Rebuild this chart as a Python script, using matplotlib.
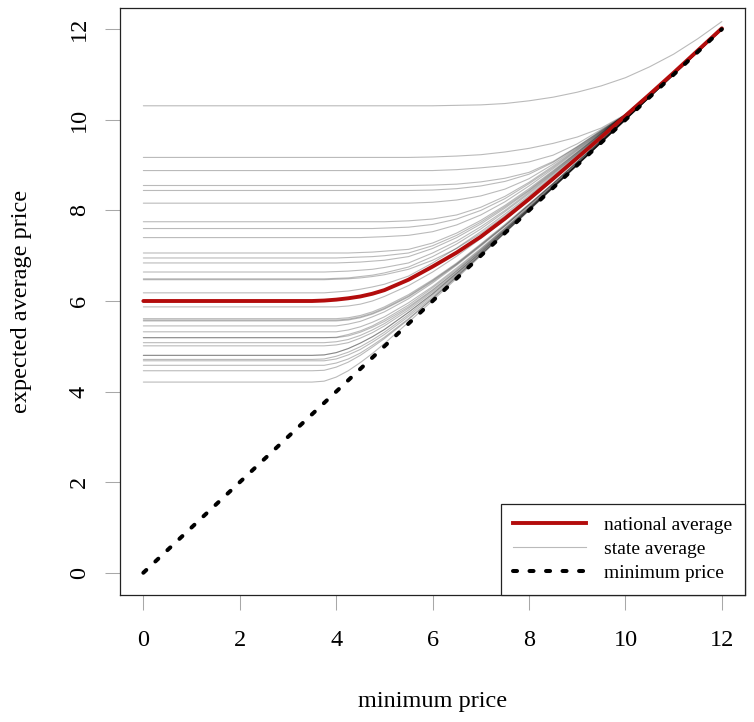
import matplotlib
matplotlib.use("Agg")
import matplotlib.pyplot as plt
from matplotlib.lines import Line2D

plt.rcParams['font.family'] = ['Liberation Serif', 'DejaVu Serif']

# minimum price grid (x values)
min_price = [0, 3, 3.5, 3.75, 4, 4.25, 4.5, 4.75, 5, 5.5, 6, 6.5, 7, 7.5, 8, 8.5,
             9, 9.5, 10, 10.5, 11, 11.5, 12]

# national average expected price
national_avg = [6.00, 6.00, 6.00, 6.01, 6.03, 6.06, 6.10, 6.16, 6.24, 6.47, 6.76, 7.07,
                7.42, 7.82, 8.25, 8.70, 9.16, 9.62, 10.09, 10.56, 11.04, 11.53, 12.02]

# state average expected prices (one list per state line)
st_01 = [10.31, 10.31, 10.31, 10.31, 10.31, 10.31, 10.31, 10.31, 10.31, 10.31, 10.31, 10.32, 10.33, 10.36, 10.42, 10.50, 10.61, 10.75, 10.93, 11.17, 11.45, 11.79, 12.17]
st_02 = [9.17, 9.17, 9.17, 9.17, 9.17, 9.17, 9.17, 9.17, 9.17, 9.17, 9.18, 9.20, 9.23, 9.29, 9.37, 9.48, 9.62, 9.82, 10.12, 10.58, 11.04, 11.52, 12.00]
st_03 = [8.88, 8.88, 8.88, 8.88, 8.88, 8.88, 8.88, 8.88, 8.88, 8.88, 8.88, 8.90, 8.94, 8.99, 9.07, 9.22, 9.47, 9.79, 10.11, 10.57, 11.04, 11.52, 12.00]
st_04 = [8.55, 8.55, 8.55, 8.55, 8.55, 8.55, 8.55, 8.55, 8.55, 8.55, 8.56, 8.58, 8.63, 8.71, 8.84, 9.08, 9.41, 9.77, 10.11, 10.57, 11.04, 11.52, 12.00]
st_05 = [8.44, 8.44, 8.44, 8.44, 8.44, 8.44, 8.44, 8.44, 8.44, 8.44, 8.45, 8.48, 8.54, 8.64, 8.80, 9.06, 9.40, 9.76, 10.11, 10.57, 11.04, 11.52, 12.00]
st_06 = [8.16, 8.16, 8.16, 8.16, 8.16, 8.16, 8.16, 8.16, 8.16, 8.16, 8.18, 8.23, 8.32, 8.47, 8.70, 9.02, 9.38, 9.75, 10.11, 10.57, 11.04, 11.52, 12.00]
st_07 = [7.75, 7.75, 7.75, 7.75, 7.75, 7.75, 7.75, 7.75, 7.75, 7.77, 7.81, 7.90, 8.07, 8.31, 8.62, 8.98, 9.36, 9.74, 10.11, 10.57, 11.04, 11.52, 12.00]
st_08 = [7.60, 7.60, 7.60, 7.60, 7.60, 7.60, 7.60, 7.60, 7.61, 7.63, 7.69, 7.81, 8.00, 8.26, 8.59, 8.95, 9.34, 9.73, 10.11, 10.57, 11.04, 11.52, 12.00]
st_09 = [7.40, 7.40, 7.40, 7.40, 7.40, 7.40, 7.40, 7.41, 7.42, 7.45, 7.53, 7.68, 7.90, 8.19, 8.54, 8.92, 9.32, 9.72, 10.11, 10.57, 11.04, 11.52, 12.00]
st_10 = [7.06, 7.06, 7.06, 7.06, 7.06, 7.06, 7.07, 7.08, 7.10, 7.14, 7.28, 7.50, 7.78, 8.11, 8.48, 8.88, 9.29, 9.71, 10.11, 10.57, 11.04, 11.52, 12.00]
st_11 = [6.95, 6.95, 6.95, 6.95, 6.95, 6.96, 6.97, 6.98, 7.00, 7.06, 7.22, 7.45, 7.74, 8.08, 8.45, 8.86, 9.28, 9.70, 10.11, 10.57, 11.04, 11.52, 12.00]
st_12 = [6.84, 6.84, 6.84, 6.84, 6.84, 6.85, 6.86, 6.88, 6.90, 6.98, 7.16, 7.40, 7.70, 8.05, 8.43, 8.84, 9.27, 9.70, 10.11, 10.57, 11.04, 11.52, 12.00]
st_13 = [6.64, 6.64, 6.64, 6.64, 6.65, 6.66, 6.68, 6.70, 6.74, 6.84, 7.06, 7.32, 7.64, 8.00, 8.40, 8.82, 9.25, 9.69, 10.11, 10.57, 11.04, 11.52, 12.00]
st_14 = [6.49, 6.49, 6.49, 6.49, 6.50, 6.51, 6.54, 6.57, 6.62, 6.75, 6.98, 7.26, 7.59, 7.97, 8.37, 8.80, 9.24, 9.68, 10.11, 10.57, 11.04, 11.52, 12.00]
st_15 = [6.47, 6.47, 6.47, 6.47, 6.48, 6.49, 6.51, 6.54, 6.58, 6.70, 6.90, 7.16, 7.49, 7.88, 8.30, 8.74, 9.20, 9.66, 10.10, 10.57, 11.04, 11.52, 12.00]
st_16 = [6.18, 6.18, 6.18, 6.18, 6.20, 6.22, 6.26, 6.31, 6.37, 6.55, 6.84, 7.17, 7.53, 7.92, 8.33, 8.77, 9.22, 9.67, 10.11, 10.57, 11.04, 11.52, 12.01]
st_17 = [5.87, 5.87, 5.87, 5.87, 5.87, 5.89, 5.93, 6.00, 6.10, 6.34, 6.64, 6.99, 7.38, 7.79, 8.22, 8.67, 9.13, 9.60, 10.08, 10.56, 11.04, 11.53, 12.02]
st_18 = [5.61, 5.61, 5.61, 5.61, 5.61, 5.63, 5.68, 5.76, 5.87, 6.14, 6.47, 6.84, 7.26, 7.69, 8.14, 8.60, 9.08, 9.56, 10.04, 10.53, 11.02, 11.51, 12.01]
st_19 = [5.58, 5.58, 5.58, 5.58, 5.58, 5.60, 5.65, 5.73, 5.84, 6.11, 6.45, 6.82, 7.24, 7.67, 8.13, 8.59, 9.07, 9.55, 10.04, 10.53, 11.02, 11.51, 12.01]
st_20 = [5.56, 5.56, 5.56, 5.56, 5.56, 5.58, 5.63, 5.71, 5.82, 6.09, 6.43, 6.81, 7.23, 7.66, 8.12, 8.59, 9.07, 9.55, 10.04, 10.53, 11.02, 11.51, 12.01]
st_21 = [5.45, 5.45, 5.45, 5.45, 5.45, 5.49, 5.55, 5.65, 5.76, 6.05, 6.40, 6.79, 7.21, 7.65, 8.11, 8.58, 9.06, 9.54, 10.03, 10.53, 11.02, 11.51, 12.01]
st_22 = [5.32, 5.32, 5.32, 5.32, 5.32, 5.36, 5.43, 5.53, 5.65, 5.96, 6.32, 6.73, 7.16, 7.61, 8.08, 8.56, 9.04, 9.53, 10.02, 10.51, 11.01, 11.50, 12.00]
st_23 = [5.19, 5.19, 5.19, 5.19, 5.20, 5.26, 5.34, 5.45, 5.59, 5.91, 6.29, 6.70, 7.14, 7.60, 8.07, 8.55, 9.03, 9.52, 10.02, 10.51, 11.01, 11.50, 12.00]
st_24 = [5.19, 5.19, 5.19, 5.19, 5.19, 5.23, 5.31, 5.42, 5.55, 5.87, 6.25, 6.67, 7.12, 7.58, 8.05, 8.54, 9.02, 9.52, 10.01, 10.51, 11.00, 11.50, 12.00]
st_25 = [5.08, 5.08, 5.08, 5.08, 5.10, 5.15, 5.24, 5.36, 5.50, 5.84, 6.23, 6.66, 7.11, 7.57, 8.05, 8.53, 9.02, 9.51, 10.01, 10.51, 11.00, 11.50, 12.00]
st_26 = [5.01, 5.01, 5.01, 5.01, 5.03, 5.08, 5.18, 5.30, 5.45, 5.80, 6.20, 6.63, 7.09, 7.56, 8.04, 8.52, 9.02, 9.51, 10.01, 10.51, 11.00, 11.50, 12.00]
st_27 = [4.80, 4.80, 4.80, 4.81, 4.86, 4.95, 5.07, 5.21, 5.37, 5.75, 6.16, 6.61, 7.07, 7.55, 8.03, 8.52, 9.01, 9.51, 10.01, 10.50, 11.00, 11.50, 12.00]
st_28 = [4.80, 4.80, 4.80, 4.81, 4.86, 4.95, 5.07, 5.21, 5.37, 5.75, 6.16, 6.61, 7.07, 7.55, 8.03, 8.52, 9.01, 9.51, 10.01, 10.50, 11.00, 11.50, 12.00]
st_29 = [4.71, 4.71, 4.71, 4.72, 4.78, 4.87, 4.99, 5.14, 5.31, 5.70, 6.13, 6.58, 7.05, 7.53, 8.02, 8.51, 9.01, 9.50, 10.00, 10.50, 11.00, 11.50, 12.00]
st_30 = [4.68, 4.68, 4.68, 4.68, 4.72, 4.81, 4.93, 5.09, 5.26, 5.66, 6.09, 6.56, 7.03, 7.52, 8.01, 8.51, 9.00, 9.50, 10.00, 10.50, 11.00, 11.50, 12.00]
st_31 = [4.58, 4.58, 4.58, 4.58, 4.63, 4.72, 4.85, 5.02, 5.20, 5.61, 6.06, 6.54, 7.02, 7.51, 8.01, 8.50, 9.00, 9.50, 10.00, 10.50, 11.00, 11.50, 12.00]
st_32 = [4.46, 4.46, 4.46, 4.47, 4.54, 4.65, 4.80, 4.98, 5.17, 5.59, 6.05, 6.53, 7.02, 7.51, 8.00, 8.50, 9.00, 9.50, 10.00, 10.50, 11.00, 11.50, 12.00]
st_33 = [4.21, 4.21, 4.21, 4.23, 4.32, 4.46, 4.64, 4.84, 5.06, 5.53, 6.01, 6.50, 7.00, 7.50, 8.00, 8.50, 9.00, 9.50, 10.00, 10.50, 11.00, 11.50, 12.00]

state_lines = [st_01, st_02, st_03, st_04, st_05, st_06, st_07, st_08, st_09, st_10,
               st_11, st_12, st_13, st_14, st_15, st_16, st_17, st_18, st_19, st_20,
               st_21, st_22, st_23, st_24, st_25, st_26, st_27, st_28, st_29, st_30,
               st_31, st_32, st_33]

# reference line: expected price equals minimum price
ref_x = [0, 12]
ref_y = [0, 12]

ticks = [0, 2, 4, 6, 8, 10, 12]
legend_labels = ["national average", "state average", "minimum price"]

W, H = 754, 722
fig = plt.figure(figsize=(W / 100, H / 100), dpi=100)
ax = fig.add_axes([120.2 / W, 1 - 594.5 / H, (745 - 120.2) / W, (594.5 - 7.5) / H])

red = '#b30c0c'
gray_kw = dict(color='black', alpha=0.27, lw=0.8)

for s in state_lines:
    ax.plot(min_price, s, solid_joinstyle='round', solid_capstyle='round', zorder=2, **gray_kw)
ax.plot(min_price, national_avg, color=red, lw=2.8, solid_joinstyle='round',
        solid_capstyle='round', zorder=3)
ax.plot(ref_x, ref_y, color='black', lw=2.9, dashes=(1.0, 3.1),
        dash_capstyle='round', zorder=4)

ax.set_xlim(-0.48, 12.48)
ax.set_ylim(-0.48, 12.48)
ax.set_xticks(ticks)
ax.set_yticks(ticks)
ax.set_xticklabels([str(t) for t in ticks])
ax.set_yticklabels([str(t) for t in ticks], rotation=90, va='center')

ax.tick_params(axis='both', length=10.8, width=0.75, color='#a8a8a8',
               labelsize=17.5, labelcolor='black')
ax.tick_params(axis='x', pad=15)
ax.tick_params(axis='y', pad=11)

for sp in ax.spines.values():
    sp.set_linewidth(0.9)
    sp.set_color('#222222')

ax.set_xlabel("minimum price", fontsize=17.5, va='center')
ax.xaxis.set_label_coords(0.5, (594.5 - 702) / (594.5 - 7.5))
ax.set_ylabel("expected average price", fontsize=17.5, va='center')
ax.yaxis.set_label_coords((22 - 120.2) / (745 - 120.2), 0.5)

handles = [
    Line2D([], [], color=red, lw=2.8),
    Line2D([], [], **gray_kw),
    Line2D([], [], color='black', lw=2.9, dashes=(1.0, 3.1), dash_capstyle='round'),
]
leg = ax.legend(handles, legend_labels, loc='lower right', borderaxespad=0,
                fontsize=14, handlelength=3.75, handletextpad=0.93,
                labelspacing=0.33, borderpad=0.65, fancybox=False,
                framealpha=1, edgecolor='#222222')
leg.get_frame().set_linewidth(0.9)

fig.savefig("out.png", dpi=100)
